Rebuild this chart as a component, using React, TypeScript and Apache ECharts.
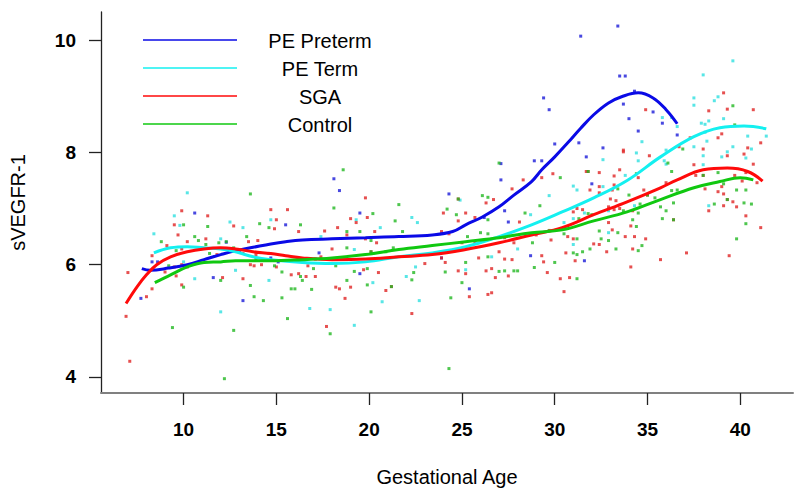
import React, { useEffect, useRef } from "react";
import * as echarts from "echarts";

const seriesNames = ["PE Preterm", "PE Term", "SGA", "Control"];
const xTicks = [10, 15, 20, 25, 30, 35, 40];
const yTicks = [4, 6, 8, 10];

// scatter observations [gestational age, sVEGFR-1]
const pePretermPoints = [
  [10.6, 6.92], [13.0, 6.23], [12.3, 6.4], [15.5, 6.71], [14.7, 6.12], [15.1, 6.05], [17.3, 6.21], [8.3, 6.05], [8.6, 6.05],
  [11.6, 5.77], [7.7, 5.4], [13.2, 5.36], [18.4, 7.32], [24.3, 7.26], [19.5, 6.92], [27.3, 6.96], [27.5, 6.76], [26.2, 6.84],
  [23.9, 6.12], [28.7, 6.16], [25.4, 5.57], [19.5, 5.84], [18.1, 7.53], [32.0, 7.44], [31.6, 6.07], [31.4, 10.07], [33.4, 10.25],
  [33.5, 9.36], [33.8, 9.36], [34.3, 9.09], [33.7, 8.86], [35.3, 8.72], [34.0, 8.6], [35.8, 8.52], [34.5, 8.38], [36.6, 8.31],
  [31.3, 8.17], [32.6, 8.08], [31.7, 7.92], [29.4, 8.97], [29.7, 8.76], [30.0, 8.15], [28.9, 7.85], [29.3, 7.85], [27.1, 7.8], [27.1, 7.51],
];
const peTermPoints = [
  [10.2, 7.28], [9.5, 6.87], [14.7, 6.8], [12.5, 6.76], [13.2, 6.66], [9.8, 6.7], [8.4, 6.55], [12.0, 6.46], [10.0, 6.05], [10.6, 5.75],
  [14.6, 5.72], [12.0, 5.16], [16.8, 5.22], [17.9, 5.2], [17.4, 6.5], [12.8, 5.9], [19.3, 6.8], [20.6, 6.66], [22.3, 6.84], [22.6, 6.75],
  [19.2, 6.27], [22.5, 5.96], [22.0, 5.79], [20.2, 5.68], [20.7, 5.34], [22.7, 5.36], [19.2, 4.92], [28.7, 6.89], [29.7, 7.23], [26.6, 6.14],
  [28.0, 6.28], [24.9, 7.15], [25.2, 5.91], [31.0, 7.4], [32.6, 7.39], [31.2, 7.33], [32.9, 6.96], [31.6, 6.92], [31.0, 6.82], [32.9, 6.57],
  [34.3, 7.05], [38.3, 7.05], [31.0, 6.36], [30.5, 6.75], [39.6, 9.63], [38.0, 9.38], [37.5, 8.97], [37.5, 8.84], [38.6, 8.92], [38.8, 8.99],
  [35.8, 8.62], [36.3, 8.62], [36.6, 8.46], [37.9, 8.52], [38.1, 8.5], [38.3, 8.56], [39.1, 8.6], [38.2, 8.2], [38.1, 8.36], [40.4, 8.29],
  [41.4, 8.29], [37.5, 8.1], [40.6, 8.06], [39.6, 8.1], [39.3, 8.01], [39.0, 7.92], [40.3, 7.9], [38.0, 7.94], [38.0, 7.78], [36.0, 8.04],
  [34.7, 8.19], [34.4, 7.99], [34.5, 7.85], [32.6, 7.87], [36.0, 7.79], [35.9, 7.85], [33.8, 7.59],
];
const sgaPoints = [
  [9.9, 6.96], [11.3, 6.87], [14.7, 6.98], [15.6, 6.98], [15.0, 6.8], [12.7, 6.69], [9.5, 6.71], [14.9, 6.64], [16.2, 6.59], [17.6, 6.6],
  [9.7, 6.53], [11.2, 6.46], [10.2, 6.41], [14.0, 6.43], [13.5, 6.41], [9.1, 6.34], [9.9, 6.28], [13.2, 6.2], [11.8, 6.18], [13.9, 6.18],
  [14.6, 6.2], [8.3, 6.16], [10.2, 5.96], [9.5, 5.96], [9.9, 6.0], [13.6, 6.0], [13.8, 5.98], [14.2, 6.0], [15.0, 5.96], [15.8, 5.82],
  [16.2, 5.84], [16.6, 5.79], [17.1, 5.79], [16.7, 5.98], [17.1, 6.1], [17.4, 6.14], [18.0, 6.28], [7.0, 5.86], [9.6, 5.8], [9.0, 5.87],
  [12.1, 5.77], [13.2, 5.75], [9.9, 5.64], [8.3, 5.57], [8.0, 5.43], [6.9, 5.08], [17.7, 4.9], [7.1, 4.28],
  [19.8, 7.19], [27.7, 7.35], [24.8, 7.17], [26.3, 7.1], [26.7, 7.16], [19.9, 6.84], [19.0, 6.82], [19.3, 6.75], [25.2, 6.92], [24.0, 6.92],
  [24.8, 6.78], [25.7, 6.84], [28.1, 6.76], [18.3, 6.66], [18.8, 6.53], [20.3, 6.59], [19.8, 6.46], [20.4, 6.39], [23.9, 6.59], [24.3, 6.55],
  [25.0, 6.39], [25.7, 6.39], [27.3, 6.48], [27.8, 6.39], [29.0, 6.53], [29.8, 6.44], [20.1, 6.23], [23.9, 6.12], [25.9, 6.12], [27.0, 6.23],
  [27.3, 6.1], [27.7, 6.09], [29.3, 6.16], [29.4, 6.05], [24.1, 6.04], [23.0, 6.02], [19.7, 5.91], [20.5, 5.86], [24.8, 5.89], [25.2, 5.84],
  [26.3, 5.89], [26.6, 5.93], [26.8, 5.77], [27.5, 5.8], [29.6, 5.86], [30.3, 5.75], [19.0, 5.6], [20.9, 5.54], [21.2, 5.61], [18.2, 5.6],
  [18.4, 5.57], [25.4, 5.43], [26.4, 5.47], [26.6, 5.5], [18.7, 5.4], [22.3, 5.13],
  [32.4, 7.39], [33.2, 7.42], [31.9, 7.33], [32.4, 7.28], [33.1, 7.33], [34.8, 7.33], [35.0, 7.24], [36.0, 7.46], [38.1, 7.35], [38.8, 7.3],
  [39.0, 7.39], [39.1, 7.26], [40.1, 7.49], [40.9, 7.46], [39.3, 7.16], [39.6, 7.12], [38.3, 6.96], [39.1, 7.05], [39.8, 7.03], [40.3, 6.87],
  [41.1, 6.66], [39.4, 6.16], [36.4, 6.8], [34.2, 6.96], [33.5, 7.0], [32.9, 7.03], [33.2, 6.98], [33.3, 7.14], [33.0, 7.17], [31.5, 6.98],
  [31.0, 6.94], [31.2, 7.0], [32.9, 6.75], [34.1, 6.69], [33.1, 6.62], [33.8, 6.5], [34.3, 6.5], [34.9, 6.46], [30.7, 6.5], [31.0, 6.46],
  [32.1, 6.37], [32.4, 6.36], [32.8, 6.23], [30.6, 6.21], [34.2, 6.28], [31.1, 6.07], [35.7, 6.09], [37.1, 6.21], [34.1, 5.96], [30.8, 5.77],
  [30.5, 5.52], [39.1, 9.06], [38.3, 8.74], [39.3, 8.77], [40.7, 8.76], [34.9, 8.76], [37.3, 8.26], [39.0, 8.33], [38.8, 8.26], [41.1, 8.17],
  [38.0, 8.06], [40.4, 8.08], [40.2, 7.97], [39.3, 7.94], [40.7, 7.79], [37.5, 7.78], [36.7, 8.1], [35.1, 7.94], [33.7, 8.04], [33.7, 8.01],
  [33.5, 7.69], [31.8, 7.66], [32.4, 7.64], [33.2, 7.58], [34.5, 7.55], [37.6, 7.59], [38.0, 7.59], [39.7, 7.59], [40.3, 7.64], [29.9, 7.62],
  [28.3, 7.51], [29.3, 7.55], [31.7, 7.66],
];
const controlPoints = [
  [13.6, 7.26], [10.0, 6.71], [11.3, 6.68], [14.1, 6.73], [14.6, 6.66], [16.3, 6.71], [10.6, 6.5], [8.8, 6.41], [10.8, 6.43], [11.2, 6.36],
  [11.9, 6.39], [12.3, 6.41], [13.4, 6.5], [9.6, 6.25], [12.7, 6.3], [11.4, 6.2], [13.9, 6.1], [10.2, 5.98], [9.2, 5.98], [14.9, 5.98],
  [15.3, 5.87], [16.3, 5.79], [16.4, 5.72], [17.0, 5.93], [12.0, 5.72], [10.0, 5.6], [13.6, 5.63], [15.8, 5.57], [16.0, 5.57], [16.9, 5.56],
  [13.8, 5.43], [14.3, 5.36], [15.3, 5.41], [9.4, 4.88], [12.7, 4.83], [15.6, 5.04], [17.9, 4.77], [12.2, 3.97],
  [21.6, 7.07], [26.1, 7.23], [26.4, 7.2], [24.8, 7.17], [18.1, 7.01], [20.2, 6.91], [21.4, 6.78], [24.7, 6.89], [24.2, 6.99], [26.4, 6.8],
  [28.4, 6.92], [29.2, 7.05], [18.8, 6.59], [19.5, 6.59], [21.8, 6.59], [20.1, 6.43], [25.3, 6.5], [26.0, 6.57], [26.4, 6.55], [29.7, 6.61],
  [28.8, 6.39], [18.8, 6.3], [20.1, 6.23], [20.9, 6.23], [21.3, 6.3], [24.8, 6.27], [26.4, 6.14], [30.0, 6.04], [25.2, 6.04], [28.0, 5.89],
  [18.2, 5.98], [19.2, 5.88], [19.9, 5.93], [22.4, 5.86], [22.3, 5.73], [24.1, 5.87], [27.0, 5.88], [27.3, 5.89], [27.8, 5.89], [28.9, 5.95],
  [18.8, 5.72], [19.9, 5.64], [21.2, 5.61], [25.0, 5.68], [24.4, 5.41], [20.1, 5.16], [24.3, 4.15],
  [33.4, 7.35], [34.0, 7.24], [35.0, 7.24], [35.4, 7.19], [36.3, 7.32], [36.6, 7.33], [39.1, 7.44], [39.8, 7.33], [40.3, 7.33], [39.3, 7.16],
  [38.6, 7.08], [40.2, 7.1], [40.6, 7.08], [40.3, 6.73], [39.8, 6.46], [36.4, 7.1], [35.8, 6.82], [36.4, 6.8], [35.7, 7.03], [36.0, 6.96],
  [34.6, 7.08], [34.5, 6.92], [33.7, 6.96], [31.8, 6.91], [32.0, 6.89], [31.3, 6.82], [34.2, 6.8], [34.4, 6.68], [32.4, 6.6], [33.4, 6.57],
  [30.5, 6.55], [31.2, 6.46], [32.5, 6.46], [32.9, 6.43], [31.9, 6.28], [33.3, 6.28], [31.5, 6.23], [34.5, 6.25], [34.7, 6.34], [31.0, 6.21],
  [31.2, 6.18], [31.2, 5.75], [39.6, 8.83], [39.7, 8.49], [36.9, 8.06], [36.1, 7.81], [36.3, 7.66], [31.8, 7.66], [34.4, 7.62], [38.0, 7.59],
  [38.8, 7.64], [27.0, 7.81], [18.6, 7.69], [30.3, 7.55],
];

// smoothed (loess) curves
const pePretermCurve = [
  [7.75, 5.93], [8.2, 5.9], [9.2, 5.94], [10.2, 6.0], [11.1, 6.09], [12.0, 6.18], [12.8, 6.25], [13.75, 6.31], [14.7, 6.37], [15.5, 6.41],
  [16.4, 6.44], [18.0, 6.46], [19.8, 6.48], [21.6, 6.5], [23.4, 6.53], [24.5, 6.59], [25.2, 6.71], [26.1, 6.85], [27.0, 7.03], [27.8, 7.24],
  [28.75, 7.48], [29.3, 7.69], [30.0, 7.92], [30.7, 8.17], [31.4, 8.43], [32.1, 8.67], [32.9, 8.88], [33.6, 8.99], [34.5, 9.06], [35.3, 8.97],
  [36.0, 8.76], [36.6, 8.51],
];
const peTermCurve = [
  [8.4, 6.21], [9.3, 6.3], [10.2, 6.32], [11.1, 6.3], [12.0, 6.28], [12.8, 6.23], [13.75, 6.14], [14.7, 6.09], [16.4, 6.04], [18.0, 6.02],
  [19.8, 6.05], [21.6, 6.14], [23.4, 6.21], [25.2, 6.32], [27.0, 6.5], [28.75, 6.71], [30.4, 6.94], [32.1, 7.19], [33.9, 7.5], [35.7, 7.92],
  [37.5, 8.28], [38.9, 8.44], [40.2, 8.47], [41.4, 8.42],
];
const sgaCurve = [
  [6.9, 5.31], [7.5, 5.61], [8.0, 5.82], [8.55, 6.0], [9.3, 6.14], [10.2, 6.23], [11.1, 6.28], [12.0, 6.3], [12.8, 6.28], [13.75, 6.23],
  [14.7, 6.2], [15.5, 6.16], [16.4, 6.12], [18.0, 6.09], [19.8, 6.1], [21.6, 6.14], [23.4, 6.18], [25.2, 6.27], [27.0, 6.39], [28.75, 6.53],
  [30.4, 6.66], [32.1, 6.89], [33.9, 7.12], [35.7, 7.37], [36.6, 7.51], [38.0, 7.69], [39.3, 7.72], [40.4, 7.66], [41.2, 7.49],
];
const controlCurve = [
  [8.45, 5.68], [9.3, 5.82], [10.2, 5.96], [11.1, 6.04], [12.0, 6.05], [12.8, 6.07], [14.7, 6.07], [16.4, 6.09], [18.0, 6.12], [19.8, 6.18],
  [21.6, 6.27], [23.4, 6.34], [25.2, 6.41], [27.0, 6.48], [28.75, 6.57], [30.4, 6.62], [32.1, 6.78], [33.9, 6.94], [35.7, 7.16], [37.5, 7.37],
  [38.9, 7.48], [40.0, 7.55], [40.7, 7.51],
];

const lineColors = ["#0a0ae6", "#14f0f0", "#ff0a0a", "#10c810"];
const pointColors = ["#1a1ad8", "#2ee0e0", "#e02424", "#22b822"];
const FONT = "'Liberation Sans', Arial, sans-serif";

export default function App() {
  const ref = useRef<HTMLDivElement>(null);
  useEffect(() => {
    if (!ref.current) return;
    const chart = echarts.init(ref.current, null, { renderer: "svg" });
    const pointSets = [pePretermPoints, peTermPoints, sgaPoints, controlPoints];
    const curves = [pePretermCurve, peTermCurve, sgaCurve, controlCurve];
    const series: any[] = [];
    pointSets.forEach((pts, i) => {
      series.push({
        name: seriesNames[i] + " data",
        type: "scatter",
        data: pts,
        symbol: "rect",
        symbolSize: 3,
        itemStyle: { color: pointColors[i] },
        silent: true,
        z: 2,
      });
    });
    curves.forEach((c, i) => {
      series.push({
        name: seriesNames[i],
        type: "line",
        data: c,
        smooth: 0.4,
        showSymbol: false,
        lineStyle: { color: lineColors[i], width: 3 },
        silent: true,
        z: 3,
      });
    });
    const legendY = [40, 68, 96, 124];
    const graphic: any[] = [];
    seriesNames.forEach((n, i) => {
      graphic.push({
        type: "line",
        shape: { x1: 143, y1: legendY[i], x2: 237, y2: legendY[i] },
        style: { stroke: lineColors[i], lineWidth: 1.4 },
        silent: true,
      });
      graphic.push({
        type: "text",
        x: 320,
        y: legendY[i] + 1,
        style: {
          text: n,
          textAlign: "center",
          textVerticalAlign: "middle",
          fontSize: 20,
          fontFamily: FONT,
          fill: "#000",
        },
        silent: true,
      });
    });
    chart.setOption({
      animation: false,
      backgroundColor: "#fff",
      grid: { left: 97, right: 7, top: 12, bottom: 101, containLabel: false },
      xAxis: {
        type: "value",
        min: 5.55,
        max: 42.84,
        name: "Gestational Age",
        nameLocation: "middle",
        nameGap: 74,
        nameTextStyle: { fontSize: 20, color: "#000", fontFamily: FONT },
        axisLine: { show: true, lineStyle: { color: "#808080", width: 2 } },
        axisTick: { show: true, customValues: xTicks, length: 12, lineStyle: { color: "#222", width: 1.3 } },
        axisLabel: { customValues: xTicks, margin: 27, fontSize: 19, fontWeight: "bold", color: "#000", fontFamily: FONT },
        splitLine: { show: false },
      },
      yAxis: {
        type: "value",
        min: 3.715,
        max: 10.5,
        name: "sVEGFR-1",
        nameLocation: "middle",
        nameGap: 73,
        nameTextStyle: { fontSize: 20, color: "#000", fontFamily: FONT },
        axisLine: { show: true, lineStyle: { color: "#222", width: 1.3 } },
        axisTick: { show: true, customValues: yTicks, length: 12, lineStyle: { color: "#222", width: 1.3 } },
        axisLabel: { customValues: yTicks, margin: 25, fontSize: 19, fontWeight: "bold", color: "#000", fontFamily: FONT },
        splitLine: { show: false },
      },
      graphic,
      series,
    });
    return () => chart.dispose();
  }, []);
  return <div ref={ref} style={{ position: "fixed", left: 0, top: 0, width: 800, height: 494 }} />;
}
